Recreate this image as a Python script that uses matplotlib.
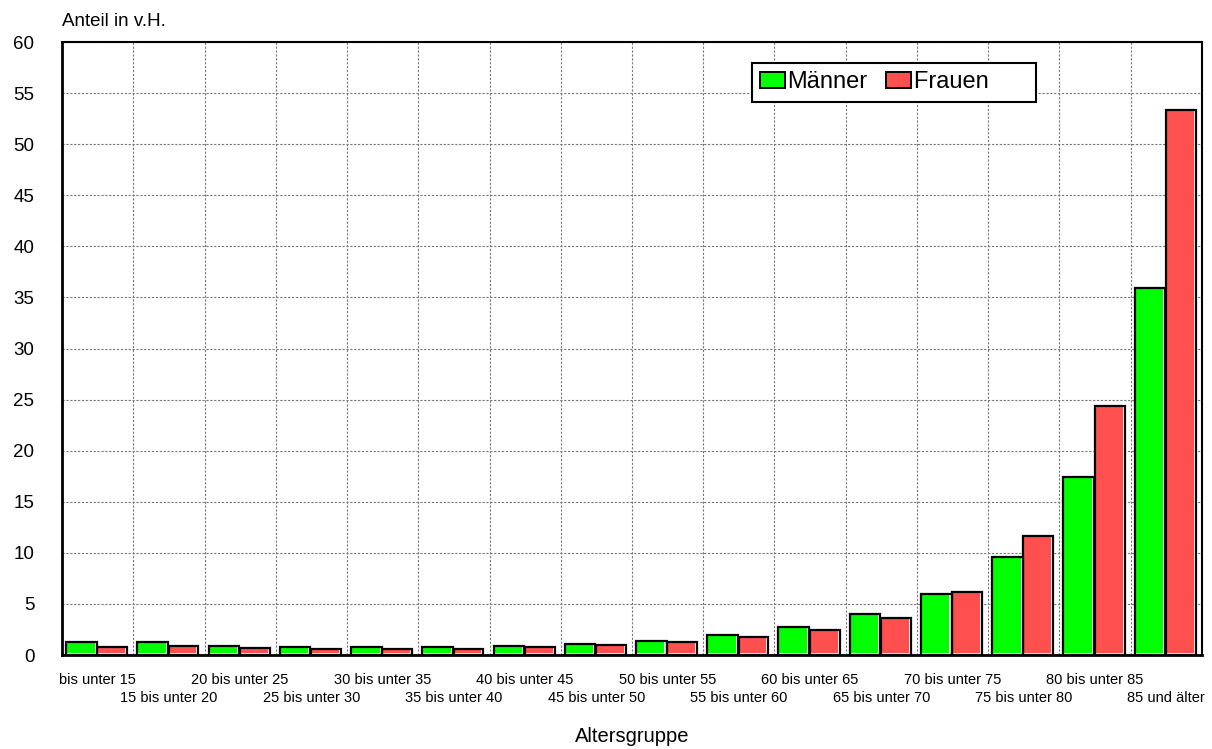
import numpy as np
import matplotlib
matplotlib.use("Agg")
import matplotlib.pyplot as plt
from matplotlib.patches import Patch

plt.rcParams['font.family'] = ['Liberation Sans', 'DejaVu Sans']

# Altersgruppen und Anteile in v.H.
gruppen = ["bis unter 15", "15 bis unter 20", "20 bis unter 25", "25 bis unter 30",
           "30 bis unter 35", "35 bis unter 40", "40 bis unter 45", "45 bis unter 50",
           "50 bis unter 55", "55 bis unter 60", "60 bis unter 65", "65 bis unter 70",
           "70 bis unter 75", "75 bis unter 80", "80 bis unter 85", "85 und älter"]
maenner = [1.3, 1.3, 0.9, 0.8, 0.8, 0.8, 0.85, 1.05, 1.35, 1.95, 2.75, 4.0, 5.95, 9.6, 17.45, 35.9]
frauen = [0.8, 0.85, 0.7, 0.6, 0.6, 0.6, 0.75, 1.0, 1.3, 1.8, 2.45, 3.65, 6.2, 11.6, 24.4, 53.3]
yticks = list(range(0, 61, 5))

fig = plt.figure(figsize=(12.12, 7.49), dpi=100)
ax = fig.add_axes([0.0512, 0.1255, 0.9405, 0.8184])

x = np.arange(len(gruppen))


def draw_bars(xs, vals, width, color):
    vals = np.array(vals)
    # weisser Hintergrund, farbige Fläche leicht versetzt, schwarzer Rahmen
    ax.bar(xs, vals, width, align='edge', color='white', linewidth=0, zorder=2)
    ax.bar(xs, vals - 0.15, width - 0.03, bottom=0.15, align='edge', color=color,
           linewidth=0, zorder=3)
    ax.bar(xs, vals, width, align='edge', fill=False, edgecolor='black',
           linewidth=1.6, zorder=4)


draw_bars(x + 0.056, maenner, 0.43, '#00ff00')
draw_bars(x + 0.495, frauen, 0.42, '#ff5050')

ax.set_xlim(0, len(gruppen))
ax.set_ylim(0, 60)
ax.set_yticks(yticks)
ax.tick_params(axis='y', length=0, pad=20, labelsize=13.5)

# Gitter an den Gruppengrenzen
ax.set_xticks(np.arange(1, len(gruppen)))
ax.set_xticklabels([])
ax.tick_params(axis='x', which='major', length=0)
ax.grid(True, which='major', color='#777777', linestyle=(0, (2, 1.5)), linewidth=0.8)
ax.set_axisbelow(True)

# versetzte Beschriftung der Altersgruppen
centers = x + 0.5
for i, lab in enumerate(gruppen):
    off = 25 if i % 2 == 0 else 43
    ax.annotate(lab, xy=(centers[i], 0), xycoords=('data', 'axes fraction'),
                xytext=(0, -off), textcoords='offset pixels',
                ha='center', va='center', fontsize=10.5)

for s in ax.spines.values():
    s.set_color('black')
    s.set_linewidth(1.5)
ax.spines['left'].set_linewidth(2)
ax.spines['bottom'].set_linewidth(2)

fig.text(62 / 1212, 1 - 22 / 749, "Anteil in v.H.", fontsize=13.5, ha='left', va='center')
fig.text(632 / 1212, 1 - 736 / 749, "Altersgruppe", fontsize=14.5, ha='center', va='center')

handles = [Patch(facecolor='#00ff00', edgecolor='black', linewidth=1.4),
           Patch(facecolor='#ff5050', edgecolor='black', linewidth=1.4)]
# Leerzeichen, damit der Rahmen rechts so breit wird wie im Original
leg = fig.legend(handles, ["Männer", "Frauen      "], ncol=2, fontsize=17,
                 loc='upper left', bbox_to_anchor=(752 / 1212, 1 - 63 / 749),
                 fancybox=False, framealpha=1, edgecolor='black',
                 handlelength=1.05, handleheight=0.7, handletextpad=0.1,
                 columnspacing=0.8, borderpad=0.35, borderaxespad=0)
leg.get_frame().set_linewidth(1.5)

fig.savefig("out.png", dpi=100)
